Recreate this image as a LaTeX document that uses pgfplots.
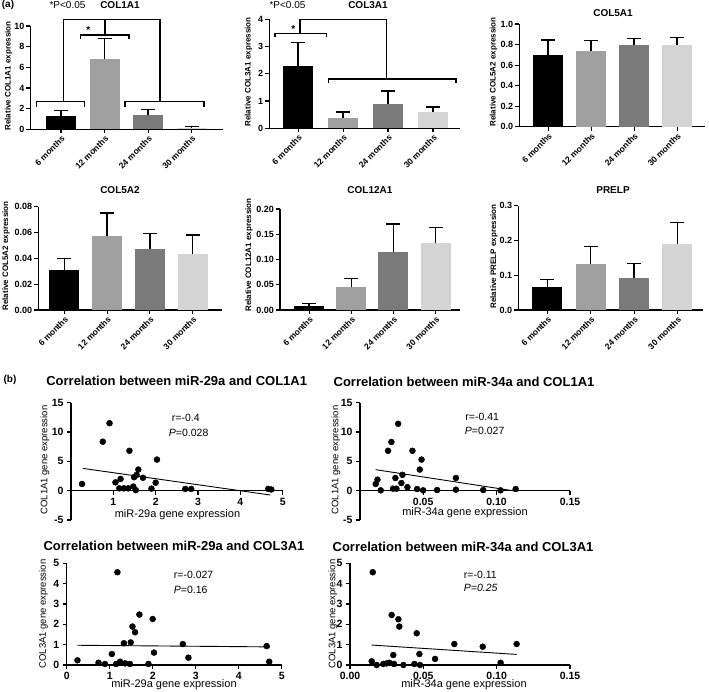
\documentclass[border=0pt]{standalone}
\usepackage{fontspec}
\setmainfont{Liberation Sans}
\usepackage{pgfplots}
\pgfplotsset{compat=1.18}

\definecolor{g12}{HTML}{A0A0A0}
\definecolor{g24}{HTML}{7A7A7A}
\definecolor{g30}{HTML}{D4D4D4}

\newcommand{\fs}[1]{\fontsize{#1}{#1}\selectfont}

\pgfplotsset{
  /pgf/number format/assume math mode=true,
  baseax/.style={
    scale only axis, clip=false, anchor=south west,
    scaled ticks=false,
    axis line style={line width=1.2pt},
    tick align=outside, major tick length=4pt,
    every tick/.style={black, line width=1.1pt},
  },
  barax/.style={baseax,
    axis x line*=bottom, axis y line*=left,
    ymin=0, xtick={1,2,3,4},
    xticklabels={6 months,12 months,24 months,30 months},
    x tick label style={rotate=45, anchor=north east, inner sep=1pt, font=\bfseries\fs{8.5}},
    y tick label style={font=\bfseries\fs{9}, inner sep=2pt},
  },
  gbar/.style={ybar, bar width=30pt, bar shift=0pt, fill=#1, draw=none,
    error bars/.cd, y dir=plus, y explicit,
    error bar style={draw=black, line width=1.3pt},
    error mark options={draw=black, rotate=90, mark size=7pt, line width=1.3pt}},
  scat/.style={baseax, axis y line*=left,
    tick label style={font=\bfseries\fs{10.5}}},
  scpts/.style={only marks, mark=*, mark size=3pt, black},
  regline/.style={black, line width=0.9pt},
  yfix/.style={y tick label style={/pgf/number format/fixed,
    /pgf/number format/fixed zerofill, /pgf/number format/precision=#1}},
  xfix/.style={x tick label style={/pgf/number format/fixed,
    /pgf/number format/fixed zerofill, /pgf/number format/precision=#1}},
}

\begin{document}
\begin{tikzpicture}
\useasboundingbox (0,0) rectangle (709pt,692pt);

% ---------- (a) bar charts ----------
\begin{axis}[barax, at={(30.5pt,562.7pt)}, width=192.5pt, height=103.3pt,
  xmin=0.3, xmax=4.72, ymax=10, ytick={0,2,4,6,8,10}]
\addplot[gbar=black] coordinates {(1,1.3) +- (0,0.5)};
\addplot[gbar=g12] coordinates {(2,6.8) +- (0,2.0)};
\addplot[gbar=g24] coordinates {(3,1.35) +- (0,0.57)};
\addplot[gbar=g30] coordinates {(4,0.15) +- (0,0.12)};
\end{axis}

\begin{axis}[barax, at={(269.3pt,563.7pt)}, width=190.7pt, height=109pt,
  xmin=0.36, xmax=4.6, ymax=4, ytick={0,1,2,3,4}]
\addplot[gbar=black] coordinates {(1,2.3) +- (0,0.85)};
\addplot[gbar=g12] coordinates {(2,0.38) +- (0,0.22)};
\addplot[gbar=g24] coordinates {(3,0.88) +- (0,0.49)};
\addplot[gbar=g30] coordinates {(4,0.58) +- (0,0.2)};
\end{axis}

\begin{axis}[barax, yfix=1, at={(519.3pt,565.3pt)}, width=185.7pt, height=102.7pt,
  xmin=0.33, xmax=4.65, ymax=1, ytick={0,0.2,0.4,0.6,0.8,1.0}]
\addplot[gbar=black] coordinates {(1,0.70) +- (0,0.145)};
\addplot[gbar=g12] coordinates {(2,0.74) +- (0,0.10)};
\addplot[gbar=g24] coordinates {(3,0.795) +- (0,0.065)};
\addplot[gbar=g30] coordinates {(4,0.795) +- (0,0.075)};
\end{axis}

\begin{axis}[barax, yfix=2, at={(38.3pt,382pt)}, width=183.4pt, height=103.3pt,
  xmin=0.39, xmax=4.68, ymax=0.08, ytick={0,0.02,0.04,0.06,0.08}]
\addplot[gbar=black] coordinates {(1,0.031) +- (0,0.009)};
\addplot[gbar=g12] coordinates {(2,0.057) +- (0,0.018)};
\addplot[gbar=g24] coordinates {(3,0.047) +- (0,0.012)};
\addplot[gbar=g30] coordinates {(4,0.043) +- (0,0.015)};
\end{axis}

\begin{axis}[barax, yfix=2, at={(280pt,382pt)}, width=180pt, height=101pt,
  xmin=0.31, xmax=4.58, ymax=0.2, ytick={0,0.05,0.1,0.15,0.2}]
\addplot[gbar=black] coordinates {(1,0.008) +- (0,0.005)};
\addplot[gbar=g12] coordinates {(2,0.045) +- (0,0.018)};
\addplot[gbar=g24] coordinates {(3,0.115) +- (0,0.055)};
\addplot[gbar=g30] coordinates {(4,0.132) +- (0,0.031)};
\end{axis}

\begin{axis}[barax, yfix=1, at={(518.3pt,382pt)}, width=184.7pt, height=104.3pt,
  xmin=0.33, xmax=4.59, ymax=0.3, ytick={0,0.1,0.2,0.3}]
\addplot[gbar=black] coordinates {(1,0.065) +- (0,0.022)};
\addplot[gbar=g12] coordinates {(2,0.132) +- (0,0.051)};
\addplot[gbar=g24] coordinates {(3,0.093) +- (0,0.040)};
\addplot[gbar=g30] coordinates {(4,0.189) +- (0,0.063)};
\end{axis}

% ---------- (b) correlations ----------
\begin{axis}[scat, axis x line*=middle, at={(71pt,172pt)}, width=211.7pt, height=117.3pt,
  xmin=0, xmax=5, ymin=-5, ymax=15, xtick={1,2,3,4,5}, ytick={-5,0,5,10,15}]
\addplot[scpts] coordinates {
 (0.26,1.14) (0.75,8.35) (0.91,11.5) (1.05,1.42) (1.17,2.0) (1.14,0.4)
 (1.25,0.4) (1.35,0.4) (1.38,6.8) (1.47,0.7) (1.49,2.3) (1.55,2.7)
 (1.53,0.1) (1.59,3.6) (1.70,2.2) (1.90,0.35) (2.0,1.36) (2.03,5.3)
 (2.70,0.3) (2.84,0.3) (4.66,0.3) (4.73,0.2)};
\addplot[regline] coordinates {(0.28,3.8) (4.71,-0.74)};
\end{axis}

\begin{axis}[scat, xfix=2, axis x line*=middle, at={(360pt,172pt)}, width=210pt, height=117.3pt,
  xmin=0.007, xmax=0.15, ymin=-5, ymax=15, xtick={0.05,0.10,0.15}, ytick={-5,0,5,10,15}]
\addplot[scpts] coordinates {
 (0.0177,1.14) (0.0189,1.88) (0.0211,0.06) (0.0261,6.8) (0.0284,8.3)
 (0.0295,0.34) (0.0311,2.16) (0.0318,0.34) (0.033,11.4) (0.0352,1.3)
 (0.0359,2.7) (0.0393,0.6) (0.0427,6.8) (0.0459,0.28) (0.0477,3.6)
 (0.0489,5.3) (0.05,0.06) (0.0595,0.11) (0.0723,2.16) (0.0723,0.17)
 (0.0909,0.11) (0.1027,0.06) (0.113,0.28)};
\addplot[regline] coordinates {(0.0177,3.58) (0.111,0.0)};
\end{axis}

\begin{axis}[scat, axis x line*=bottom, at={(66.7pt,27pt)}, width=215pt, height=101.7pt,
  xmin=0, xmax=5, ymin=0, ymax=5, xtick={0,1,2,3,4,5}, ytick={0,1,2,3,4,5}]
\addplot[scpts] coordinates {
 (0.25,0.23) (0.74,0.11) (0.89,0.05) (1.05,0.54) (1.15,0.05) (1.18,4.56)
 (1.24,0.16) (1.33,1.07) (1.36,0.08) (1.47,0.05) (1.49,1.11) (1.53,1.89)
 (1.59,1.61) (1.69,2.48) (1.90,0.05) (2.0,2.26) (2.03,0.61) (2.70,1.03)
 (2.83,0.36) (4.65,0.93) (4.71,0.16)};
\addplot[regline] coordinates {(0.25,0.97) (4.73,0.89)};
\end{axis}

\begin{axis}[scat, xfix=2, axis x line*=bottom, at={(350pt,27pt)}, width=220pt, height=101.7pt,
  xmin=0, xmax=0.15, ymin=0, ymax=5, xtick={0,0.05,0.10,0.15}, ytick={0,1,2,3,4,5}]
\addplot[scpts] coordinates {
 (0.0155,4.56) (0.0148,0.18) (0.0182,0.0) (0.0227,0.05) (0.025,0.08)
 (0.0268,0.11) (0.0284,2.46) (0.0295,0.49) (0.03,0.05) (0.033,2.25)
 (0.0336,1.89) (0.0364,0.0) (0.0439,0.05) (0.0455,1.56) (0.0473,0.54)
 (0.0477,0.0) (0.058,0.3) (0.0711,1.03) (0.0905,0.9) (0.1027,0.11)
 (0.1136,1.03)};
\addplot[regline] coordinates {(0.0148,0.98) (0.1136,0.52)};
\end{axis}

% ---------- labels and brackets (pixel coordinates, y downwards) ----------
\begin{scope}[shift={(0,692pt)}, x=1pt, y=-1pt, line width=1.2pt]
\node[font=\bfseries\fs{10}] at (8,5) {(a)};
\node[font=\fs{10}] at (67.5,5) {*P<0.05};
\node[font=\bfseries\fs{10}] at (120,5) {COL1A1};
\node[font=\fs{10}] at (287.5,5) {*P<0.05};
\node[font=\bfseries\fs{10}] at (368,5) {COL3A1};
\node[font=\bfseries\fs{10}] at (613,13) {COL5A1};
\node[font=\bfseries\fs{10}] at (120,190) {COL5A2};
\node[font=\bfseries\fs{10}] at (370,190.5) {COL12A1};
\node[font=\bfseries\fs{10}] at (613,190) {PRELP};

\node[rotate=90, font=\bfseries\fs{8}] at (8.5,76) {Relative COL1A1 expression};
\node[rotate=90, font=\bfseries\fs{8}] at (248.5,72) {Relative COL3A1 expression};
\node[rotate=90, font=\bfseries\fs{8}] at (493.5,72) {Relative COL5A2 expression};
\node[rotate=90, font=\bfseries\fs{8}] at (6,256) {Relative COL5A2 expression};
\node[rotate=90, font=\bfseries\fs{8}] at (249,255) {Relative COL12A1 expression};
\node[rotate=90, font=\bfseries\fs{8}] at (494,256.5) {Relative PRELP expression};

% COL1A1 brackets
\draw (63.3,101.7) -- (63.3,19.3) -- (160,19.3) -- (160,101.7);
\draw (36.7,106.7) -- (36.7,101.7) -- (84.3,101.7) -- (84.3,106.7);
\draw (125,106.7) -- (125,101.7) -- (204,101.7) -- (204,106.7);
\draw (105,19.3) -- (105,35);
\draw (80.7,39.3) -- (80.7,35) -- (129,35) -- (129,39.3);
\node[font=\bfseries\fs{10}] at (88.3,30) {*};
% COL3A1 brackets
\draw (275,37.3) -- (275,33.3) -- (326.7,33.3) -- (326.7,37.3);
\draw (300,33.3) -- (300,19.3) -- (386.7,19.3) -- (386.7,79);
\draw (328.3,83.3) -- (328.3,79) -- (456,79) -- (456,83.3);
\node[font=\bfseries\fs{10}] at (293.3,29) {*};

% correlation panels
\node[font=\bfseries\fs{10}] at (10,380) {(b)};
\node[font=\bfseries\fs{13}] at (176.7,380.5) {Correlation between miR-29a and COL1A1};
\node[font=\bfseries\fs{13}] at (464,381.5) {Correlation between miR-34a and COL1A1};
\node[font=\bfseries\fs{13}] at (174,546) {Correlation between miR-29a and COL3A1};
\node[font=\bfseries\fs{13}] at (463,546.5) {Correlation between miR-34a and COL3A1};

\node[rotate=90, font=\fs{9.5}] at (45,460) {COL1A1 gene expression};
\node[rotate=90, font=\fs{9.5}] at (336,460) {COL1A1 gene expression};
\node[rotate=90, font=\fs{9.5}] at (43.5,614) {COL3A1 gene expression};
\node[rotate=90, font=\fs{9.5}] at (333,614) {COL3A1 gene expression};

\node[font=\fs{11}] at (177.5,515) {miR-29a gene expression};
\node[font=\fs{11}] at (465,513) {miR-34a gene expression};
\node[font=\fs{11}] at (174,685) {miR-29a gene expression};
\node[font=\fs{11}] at (464,685) {miR-34a gene expression};

\node[font=\fs{10.5}, anchor=west] at (168,418) {r=-0.4};
\node[font=\fs{10.5}, anchor=west] at (165,433) {\textit{P}=0.028};
\node[font=\fs{10.5}, anchor=west] at (461.5,416.7) {r=-0.41};
\node[font=\fs{10.5}, anchor=west] at (461,430.7) {\textit{P}=0.027};
\node[font=\fs{10.5}, anchor=west] at (170,575) {r=-0.027};
\node[font=\fs{10.5}, anchor=west] at (170,590) {\textit{P}=0.16};
\node[font=\fs{10.5}, anchor=west] at (460,575) {r=-0.11};
\node[font=\fs{10.5}, anchor=west] at (460,588.3) {\textit{P=0.25}};
\end{scope}
\end{tikzpicture}
\end{document}
